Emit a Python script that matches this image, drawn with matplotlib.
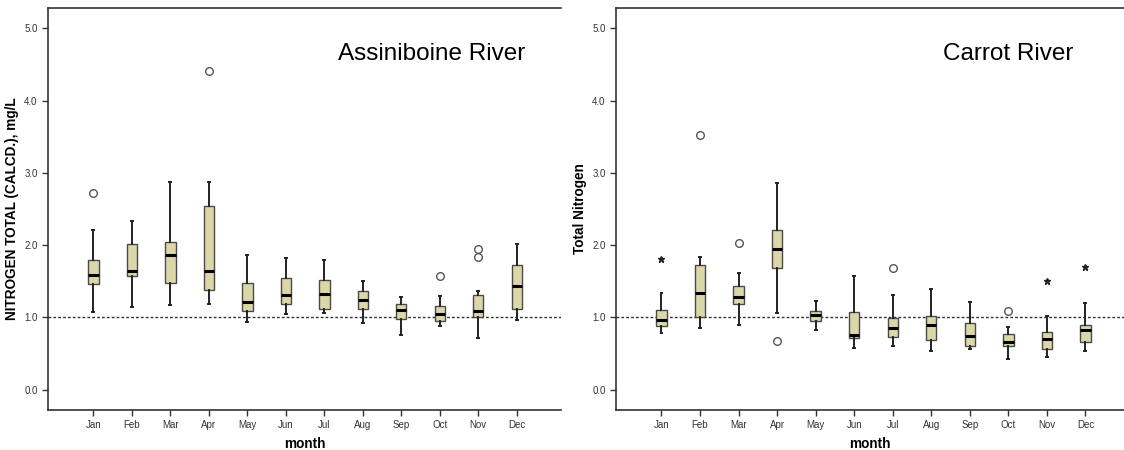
import numpy as np
import matplotlib
matplotlib.use("Agg")
import matplotlib.pyplot as plt

plt.rcParams['font.family'] = ['Liberation Sans', 'DejaVu Sans']

months = ['Jan', 'Feb', 'Mar', 'Apr', 'May', 'Jun',
          'Jul', 'Aug', 'Sep', 'Oct', 'Nov', 'Dec']

# Assiniboine River
ass_lo = [1.07, 1.14, 1.17, 1.19, 0.94, 1.05, 1.06, 0.92, 0.76, 0.88, 0.72, 0.96]
ass_q1 = [1.46, 1.57, 1.48, 1.38, 1.09, 1.18, 1.12, 1.12, 0.98, 0.95, 1.01, 1.12]
ass_med = [1.59, 1.64, 1.86, 1.64, 1.22, 1.31, 1.33, 1.24, 1.10, 1.05, 1.09, 1.44]
ass_q3 = [1.79, 2.01, 2.04, 2.54, 1.47, 1.54, 1.52, 1.36, 1.19, 1.16, 1.31, 1.73]
ass_hi = [2.21, 2.34, 2.87, 2.87, 1.86, 1.82, 1.79, 1.51, 1.28, 1.29, 1.37, 2.02]
ass_out = [[2.72], [], [], [4.41], [], [], [], [], [], [1.58], [1.84, 1.95], []]
ass_ext = [[] for _ in months]

# Carrot River
car_lo = [0.79, 0.86, 0.90, 1.06, 0.83, 0.58, 0.61, 0.54, 0.56, 0.43, 0.45, 0.54]
car_q1 = [0.88, 1.01, 1.19, 1.69, 0.95, 0.71, 0.73, 0.69, 0.61, 0.60, 0.57, 0.66]
car_med = [0.97, 1.34, 1.28, 1.94, 1.04, 0.76, 0.86, 0.90, 0.74, 0.66, 0.70, 0.82]
car_q3 = [1.11, 1.73, 1.44, 2.21, 1.09, 1.07, 0.99, 1.02, 0.92, 0.77, 0.80, 0.90]
car_hi = [1.34, 1.84, 1.61, 2.86, 1.23, 1.58, 1.31, 1.39, 1.22, 0.87, 1.02, 1.20]
car_out = [[], [3.52], [2.03], [0.67], [], [], [1.68], [], [], [1.09], [], []]
car_ext = [[1.81], [], [], [], [], [], [], [], [], [], [1.51], [1.70]]

W, H = 1124, 450
fig = plt.figure(figsize=(W / 100, H / 100), dpi=100)

box_fill = '#dcd7a9'
edge = '#4a4a4a'


def draw(ax, lo, q1, med, q3, hi, outs, exts, ylabel, title, xmax, tx):
    stats = []
    for i in range(len(months)):
        stats.append(dict(whislo=lo[i], q1=q1[i], med=med[i], q3=q3[i],
                          whishi=hi[i], fliers=[]))
    pos = np.arange(len(months))
    ax.bxp(stats, positions=pos, widths=0.27, patch_artist=True,
           showfliers=False,
           boxprops=dict(facecolor=box_fill, edgecolor=edge, linewidth=1.0),
           medianprops=dict(color='black', linewidth=2.2),
           whiskerprops=dict(color='#222222', linewidth=1.4),
           capprops=dict(color='#222222', linewidth=1.4),
           capwidths=0.05)
    for i in range(len(months)):
        if outs[i]:
            ax.plot([pos[i]] * len(outs[i]), outs[i], 'o', ms=5.5,
                    mfc='white', mec='#555555', mew=1.0, zorder=4)
        if exts[i]:
            ax.plot([pos[i]] * len(exts[i]), exts[i], '*', ms=4.5,
                    color='#222222', zorder=4)
    ax.axhline(1.0, color='#333333', lw=1.0, ls=(0, (2, 1.5)), zorder=1)

    ax.set_xlim(-1.18, xmax)
    ax.set_ylim(-0.28, 5.28)
    ax.set_yticks([0, 1, 2, 3, 4, 5])
    ax.set_yticklabels(['0.0', '1.0', '2.0', '3.0', '4.0', '5.0'])
    ax.set_xticks(pos)
    ax.set_xticklabels(months)
    ax.tick_params(axis='both', labelsize=7, labelcolor='#333333',
                   color='#333333', direction='out', length=4, width=1)
    ax.spines['right'].set_visible(False)
    for s in ['left', 'top', 'bottom']:
        ax.spines[s].set_color('#333333')
        ax.spines[s].set_linewidth(1.2)
    ax.set_xlabel('month', fontsize=9.8, fontweight='bold', labelpad=5)
    ax.set_ylabel(ylabel, fontsize=9.8, fontweight='bold', labelpad=4)
    ax.text(tx, 0.885, title, transform=ax.transAxes, ha='right',
            va='center', fontsize=17.5, color='black')


ax1 = fig.add_axes([48 / W, 40 / H, 513 / W, 402 / H])
draw(ax1, ass_lo, ass_q1, ass_med, ass_q3, ass_hi, ass_out, ass_ext,
     'NITROGEN TOTAL (CALCD.), mg/L', 'Assiniboine River', 12.15, 0.93)

ax2 = fig.add_axes([616 / W, 40 / H, 508 / W, 402 / H])
draw(ax2, car_lo, car_q1, car_med, car_q3, car_hi, car_out, car_ext,
     'Total Nitrogen', 'Carrot River', 12.0, 0.9)

fig.savefig('out.png', dpi=100)
